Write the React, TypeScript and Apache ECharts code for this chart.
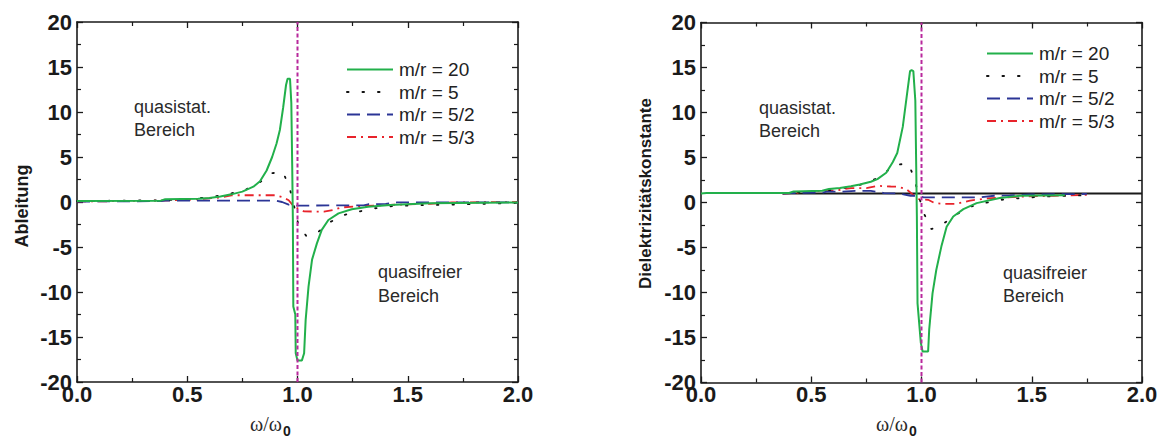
import React, { useEffect, useRef } from "react";
import * as echarts from "echarts";

// ---------- Data ----------
const seriesNames = ["m/r = 20", "m/r = 5", "m/r = 5/2", "m/r = 5/3"];

// Left panel: Ableitung
const ablX20 = [0, 0.38, 0.4, 0.55, 0.6, 0.65, 0.7, 0.75, 0.8, 0.83, 0.86, 0.885, 0.905, 0.92, 0.935, 0.948, 0.955, 0.966, 0.972, 0.976, 0.979, 0.981, 0.99, 0.992, 1.0, 1.02, 1.03, 1.037, 1.05, 1.066, 1.088, 1.11, 1.14, 1.186, 1.246, 1.32, 1.42, 1.6, 2.0];
const ablY20 = [0.1, 0.15, 0.3, 0.35, 0.45, 0.6, 0.85, 1.15, 1.7, 2.3, 3.5, 5.0, 6.5, 8.0, 10.5, 13.0, 13.7, 13.7, 11.0, 4.0, -2.0, -11.6, -12.5, -16.8, -17.6, -17.6, -16.8, -13.1, -9.4, -6.4, -4.6, -3.1, -2.0, -1.26, -0.81, -0.52, -0.33, -0.15, -0.05];
const ablX5 = [0, 0.4, 0.6, 0.75, 0.82, 0.88, 0.935, 0.965, 0.985, 1.003, 1.04, 1.09, 1.15, 1.21, 1.27, 1.35, 1.435, 1.55, 1.68, 2.0];
const ablY5 = [0.1, 0.2, 0.5, 1.2, 2.0, 3.2, 3.3, 1.5, -0.5, -2.4, -3.8, -3.4, -2.2, -1.45, -1.1, -0.7, -0.45, -0.35, -0.3, -0.1];
const ablX52 = [0, 0.38, 0.4, 0.9, 0.93, 0.96, 0.99, 1.3, 1.32, 1.4, 1.45, 2.0];
const ablY52 = [0.05, 0.1, 0.15, 0.15, 0.0, -0.3, -0.4, -0.37, -0.25, -0.2, -0.05, -0.05];
const ablX53 = [0, 0.38, 0.55, 0.65, 0.7, 0.9, 0.93, 0.96, 0.98, 1.0, 1.03, 1.12, 1.16, 1.2, 1.3, 1.45, 1.6, 1.7, 2.0];
const ablY53 = [0.05, 0.15, 0.3, 0.5, 0.75, 0.75, 0.55, 0.2, -0.4, -0.7, -1.05, -1.07, -0.9, -0.6, -0.45, -0.3, -0.2, -0.05, 0];

// Right panel: Dielektrizitätskonstante
const dkX20 = [0, 0.025, 0.4, 0.42, 0.55, 0.58, 0.63, 0.68, 0.72, 0.77, 0.8, 0.84, 0.87, 0.89, 0.915, 0.933, 0.948, 0.955, 0.963, 0.972, 0.976, 0.979, 0.982, 0.997, 1.005, 1.03, 1.035, 1.05, 1.067, 1.09, 1.114, 1.144, 1.19, 1.25, 1.355, 1.446, 1.65];
const dkY20 = [1.0, 1.05, 1.05, 1.23, 1.3, 1.5, 1.6, 1.8, 2.0, 2.3, 2.6, 3.3, 4.5, 5.5, 8.4, 11.8, 14.6, 14.7, 14.6, 11.3, 4.0, -1.5, -11.2, -15.6, -16.55, -16.55, -14.1, -10.1, -7.5, -4.9, -2.7, -1.55, -0.74, -0.07, 0.49, 0.74, 0.8];
const dkX5 = [0.37, 0.6, 0.75, 0.82, 0.879, 0.94, 0.965, 0.99, 1.014, 1.045, 1.097, 1.16, 1.225, 1.285, 1.36, 1.45, 1.55, 1.69, 1.75];
const dkY5 = [1.05, 1.4, 2.1, 3.0, 4.2, 4.3, 2.9, 0.5, -1.37, -2.96, -2.4, -1.3, -0.44, -0.07, 0.3, 0.49, 0.65, 0.77, 0.8];
const dkX52 = [0.37, 0.41, 0.55, 0.57, 0.64, 0.7, 0.77, 0.83, 0.9, 0.95, 0.98, 1.01, 1.26, 1.33, 1.4, 1.5, 1.75];
const dkY52 = [1.0, 1.05, 1.1, 1.2, 1.2, 1.3, 1.3, 1.05, 1.0, 0.75, 0.75, 0.56, 0.56, 0.75, 0.8, 0.9, 0.95];
const dkX53 = [0.37, 0.42, 0.55, 0.61, 0.68, 0.75, 0.8, 0.86, 0.89, 0.93, 0.96, 0.99, 1.03, 1.06, 1.1, 1.16, 1.22, 1.3, 1.45, 1.6, 1.75];
const dkY53 = [1.0, 1.05, 1.33, 1.33, 1.6, 1.6, 1.85, 1.78, 1.75, 1.5, 0.9, 0.35, 0.3, -0.07, -0.15, -0.15, 0.22, 0.45, 0.65, 0.75, 0.85];
const vacuumX = [0.37, 2.0];
const vacuumY = [1, 1];

const resonanceX = [1, 1];
const resonanceY = [-20, 20];

// ---------- Styles ----------
const FONT = "Arial, 'Liberation Sans', Helvetica, sans-serif";
const AXIS_COLOR = "#1a1a1a";
const lineColors = ["#22b04b", "#111111", "#2b3596", "#e8232b"];
const lineStyles: any[] = [
  { color: lineColors[0], width: 2, type: "solid" },
  { color: lineColors[1], width: 1.8, type: [1.5, 14], cap: "round" },
  { color: lineColors[2], width: 1.8, type: [13, 7] },
  { color: lineColors[3], width: 1.8, type: [9, 5, 2, 5] },
];

const zip = (xs: number[], ys: number[]) => xs.map((x, i) => [x, ys[i]]);

export default function App() {
  const ref = useRef<HTMLDivElement>(null);

  useEffect(() => {
    if (!ref.current) return;
    const chart = echarts.init(ref.current, undefined, { renderer: "svg" });

    const grids = [
      { left: 77, top: 22, width: 441, height: 360 },
      { left: 701, top: 22.5, width: 441, height: 360 },
    ];

    const xAxes: any[] = [];
    const yAxes: any[] = [];
    grids.forEach((_, g) => {
      ["bottom", "top"].forEach((pos) => {
        xAxes.push({
          type: "value",
          gridIndex: g,
          position: pos,
          min: 0,
          max: 2,
          interval: 0.5,
          axisLine: { show: true, onZero: false, lineStyle: { color: AXIS_COLOR, width: 1.6 } },
          axisTick: { show: true, inside: true, length: 6, lineStyle: { color: AXIS_COLOR, width: 1.3 } },
          minorTick: { show: true, splitNumber: 2, length: 4, lineStyle: { color: AXIS_COLOR, width: 1.2 } },
          splitLine: { show: false },
          axisLabel: pos === "bottom"
            ? { show: true, margin: 1, fontSize: 22, fontWeight: "bold", fontFamily: FONT, color: "#1a1a1a", formatter: (v: number) => v.toFixed(1) }
            : { show: false },
        });
      });
      ["left", "right"].forEach((pos) => {
        yAxes.push({
          type: "value",
          gridIndex: g,
          position: pos,
          min: -20,
          max: 20,
          interval: 5,
          axisLine: { show: true, onZero: false, lineStyle: { color: AXIS_COLOR, width: 1.6 } },
          axisTick: { show: true, inside: true, length: 6, lineStyle: { color: AXIS_COLOR, width: 1.3 } },
          minorTick: { show: true, splitNumber: 2, length: 4, lineStyle: { color: AXIS_COLOR, width: 1.2 } },
          splitLine: { show: false },
          axisLabel: pos === "left"
            ? { show: true, margin: 5, fontSize: 22, fontWeight: "bold", fontFamily: FONT, color: "#1a1a1a" }
            : { show: false },
        });
      });
    });

    const panels = [
      { sets: [zip(ablX20, ablY20), zip(ablX5, ablY5), zip(ablX52, ablY52), zip(ablX53, ablY53)], vacuum: false },
      { sets: [zip(dkX20, dkY20), zip(dkX5, dkY5), zip(dkX52, dkY52), zip(dkX53, dkY53)], vacuum: true },
    ];

    const series: any[] = [];
    panels.forEach((p, g) => {
      const xi = g * 2;
      const yi = g * 2;
      if (p.vacuum) {
        series.push({
          type: "line", name: "vacuum", xAxisIndex: xi, yAxisIndex: yi,
          data: zip(vacuumX, vacuumY), symbol: "none", silent: true,
          lineStyle: { color: "#1a1a1a", width: 1.8 }, itemStyle: { color: "#1a1a1a" }, z: 1,
        });
      }
      for (let k = 3; k >= 0; k--) {
        series.push({
          type: "line", name: seriesNames[k], xAxisIndex: xi, yAxisIndex: yi,
          data: p.sets[k], symbol: "none", showSymbol: false,
          lineStyle: lineStyles[k], itemStyle: { color: lineColors[k] }, z: 2 + (3 - k),
        });
      }
      series.push({
        type: "line", name: "resonance", xAxisIndex: xi, yAxisIndex: yi,
        data: zip(resonanceX, resonanceY), symbol: "none", silent: true,
        lineStyle: { color: "#b8299c", width: 2, type: [4, 2.5] }, itemStyle: { color: "#b8299c" }, z: 10,
      });
    });

    const legendBase = {
      orient: "vertical",
      padding: 0,
      itemWidth: 46,
      itemHeight: 10,
      itemGap: 3.5,
      data: seriesNames,
      selectedMode: false,
      itemStyle: { opacity: 0 },
      textStyle: { fontSize: 19, fontFamily: FONT, color: "#222", padding: [0, 0, 0, 1] },
    };

    const txt = (text: string, x: number, y: number, extra: any = {}) => ({
      type: "text", x, y,
      style: { text, fontSize: 18, fontFamily: FONT, fill: "#2a2a2a", textAlign: "left", textVerticalAlign: "middle", ...extra },
    });

    chart.setOption({
      animation: false,
      backgroundColor: "#ffffff",
      grid: grids,
      xAxis: xAxes,
      yAxis: yAxes,
      legend: [
        { ...legendBase, left: 346, top: 60 },
        { ...legendBase, left: 986, top: 44 },
      ],
      series,
      graphic: [
        txt("quasistat.", 134, 107),
        txt("Bereich", 134, 130),
        txt("quasifreier", 378, 272),
        txt("Bereich", 378, 296),
        txt("quasistat.", 759, 108),
        txt("Bereich", 759, 130.5),
        txt("quasifreier", 1003, 273),
        txt("Bereich", 1003, 296),
        {
          type: "text", x: 22, y: 206, rotation: Math.PI / 2,
          style: { text: "Ableitung", fontSize: 18, fontWeight: "bold", fontFamily: FONT, fill: "#1a1a1a", textAlign: "center", textVerticalAlign: "middle" },
        },
        {
          type: "text", x: 645, y: 193.5, rotation: Math.PI / 2,
          style: { text: "Dielektrizitätskonstante", fontSize: 17, fontWeight: "bold", fontFamily: FONT, fill: "#1a1a1a", textAlign: "center", textVerticalAlign: "middle" },
        },
        {
          type: "text", x: 282, y: 424,
          style: { text: "ω/ω", fontSize: 20, fontFamily: "'Liberation Serif', 'Times New Roman', serif", fill: "#2a2a2a", textAlign: "right", textVerticalAlign: "middle" },
        },
        {
          type: "text", x: 283, y: 431,
          style: { text: "0", fontSize: 14, fontWeight: "bold", fontFamily: FONT, fill: "#1a1a1a", textAlign: "left", textVerticalAlign: "middle" },
        },
        {
          type: "text", x: 908, y: 424,
          style: { text: "ω/ω", fontSize: 20, fontFamily: "'Liberation Serif', 'Times New Roman', serif", fill: "#2a2a2a", textAlign: "right", textVerticalAlign: "middle" },
        },
        {
          type: "text", x: 909, y: 431,
          style: { text: "0", fontSize: 14, fontWeight: "bold", fontFamily: FONT, fill: "#1a1a1a", textAlign: "left", textVerticalAlign: "middle" },
        },
      ],
    });

    return () => chart.dispose();
  }, []);

  return (
    <div
      ref={ref}
      style={{ position: "absolute", left: 0, top: 0, width: 1169, height: 441, background: "#fff" }}
    />
  );
}
